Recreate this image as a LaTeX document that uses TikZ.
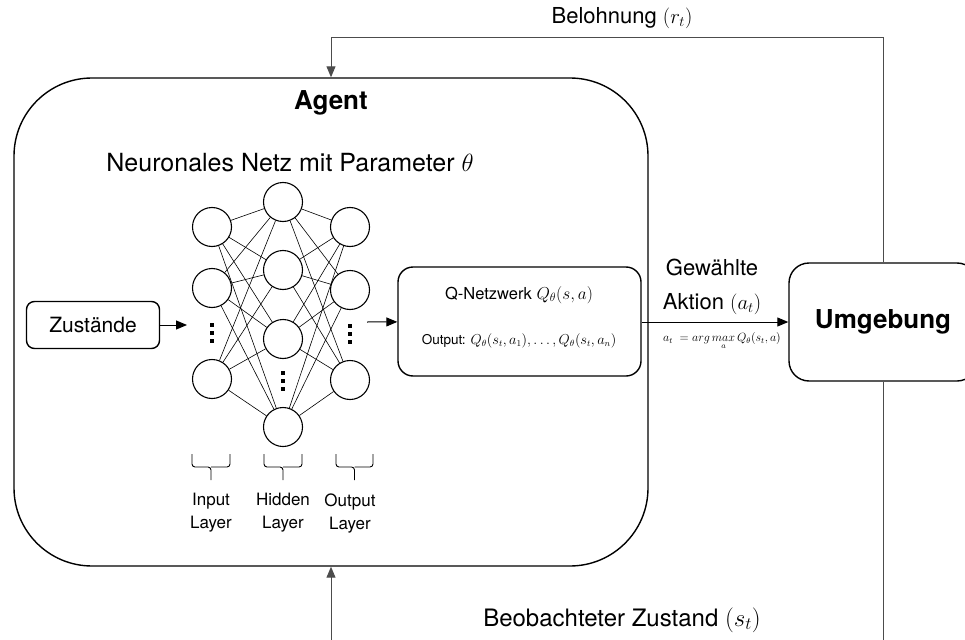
\documentclass[tikz,border=0pt]{standalone}
\usepackage{amsmath,amssymb}
\usepackage{fontspec}
\setmainfont{TeX Gyre Heros}
\usetikzlibrary{positioning,arrows.meta}
\newcommand{\fsz}[2]{\fontsize{#1}{#2}\selectfont}
\tikzstyle{box} = [draw, line width=1.4pt, rounded corners=15pt, align=center]
\tikzstyle{neuron} = [draw, circle, line width=1.1pt, minimum size=39pt, inner sep=0pt]
\tikzstyle{edge} = [line width=0.6pt]
\tikzstyle{brc} = [line width=0.9pt, rounded corners=3pt]
\tikzstyle{layer} = [align=center, font=\fsz{17}{23}]
\tikzstyle{arr} = [line width=1pt, -{Triangle[length=11pt,width=9pt]}]
\tikzstyle{loop} = [line width=1pt, draw=black!70, -{Triangle[length=11pt,width=9pt]}]

\begin{document}
\begin{tikzpicture}[x=1pt, y=-1pt]
			\useasboundingbox (0,0) rectangle (965,639);
			% agent and environment
			\node[box, rounded corners=78pt, minimum width=634pt, minimum height=488pt] (agent) at (331,322) {};
			\node (agtitle) at (331,103) {\fsz{26}{30}\bfseries Agent};
			\node[box, rounded corners=20pt, minimum width=188pt, minimum height=118pt] (umw) at (883,322) {\fsz{26}{30}\bfseries Umgebung};
			% inputs
			\node[box, rounded corners=8pt, minimum width=133pt, minimum height=47pt] (zst) at (93,325) {\fsz{21}{25}Zustände};
			\coordinate (netin) at (187,325);
			\coordinate (netout) at (367,322);
			\node (nnet) at (290,163) {\fsz{25}{29}Neuronales Netz mit Parameter $\theta$};
			% network
			\node[neuron] (in1) at (212,227) {};
			\node[neuron] (in2) at (212,288) {};
			\node[neuron] (in3) at (212,379) {};
			\node[neuron] (hid1) at (283,202) {};
			\node[neuron] (hid2) at (283,270) {};
			\node[neuron] (hid3) at (283,339) {};
			\node[neuron] (hid4) at (283,427) {};
			\node[neuron] (out1) at (350,227) {};
			\node[neuron] (out2) at (350,290) {};
			\node[neuron] (out3) at (350,380) {};
			\foreach \x/\y in {212/333, 283/381, 350/334}
				\foreach \d in {-8,0,8}
					\fill (\x-1.6,\y+\d-1.8) rectangle (\x+1.6,\y+\d+1.8);
			\foreach \i in {1,2,3} {
				\foreach \j in {1,...,4} {
					\draw[edge] (in\i) -- (hid\j);
					\draw[edge] (hid\j) -- (out\i);
				}
			}
			% braces and layer names
			\foreach \a/\b in {192/230, 264/302, 336/373} {
				\draw[brc] (\a,454) |- ({(\a+\b)/2},467) -- ({(\a+\b)/2},480);
				\draw[brc] (\b,454) |- ({(\a+\b)/2},467);
			}
			\node[layer] (linp) at (211,513) {Input\\Layer};
			\node[layer] (lhid) at (283,513) {Hidden\\Layer};
			\node[layer] (lout) at (350,513) {Output\\Layer};
			% Q network
			\node[box, minimum width=243pt, minimum height=109pt] (qnet) at (519.5,321.5) {};
			\node (qtitle) at (519,295) {\fsz{16.5}{20}Q-Netzwerk $Q_\theta(s,a)$};
			\node (qout) at (519,341) {\fsz{13.5}{16}Output: $Q_\theta(s_t,a_1),\dots,Q_\theta(s_t,a_n)$};
			\draw[arr] (zst) -- (netin);
			\draw[arr] (netout) -- (qnet);
			\draw[arr] (qnet.east |- umw.west) -- (umw.west);
			\node[align=center, font=\fsz{22}{34}] (aktion) at (712,287) {Gewählte\\Aktion $(a_t)$};
			\node (argmax) at (722,341) {\fsz{12}{14}$a_t\ = arg\mathop{max}\limits_a Q_\theta(s_t,a)$};
			% feedback loop
			\coordinate (top) at (331,38);
			\coordinate (bot) at (331,680);
			\draw[loop] (umw.north) |- (top) -- (agent.north);
			\draw[loop] (umw.south) |- (bot) -- (agent.south);
			\node (rew) at (622,18) {\fsz{22}{26}Belohnung $(r_t)$};
			\node (obs) at (622,620) {\fsz{24}{28}Beobachteter Zustand $(s_t)$};
		\end{tikzpicture}
\end{document}
